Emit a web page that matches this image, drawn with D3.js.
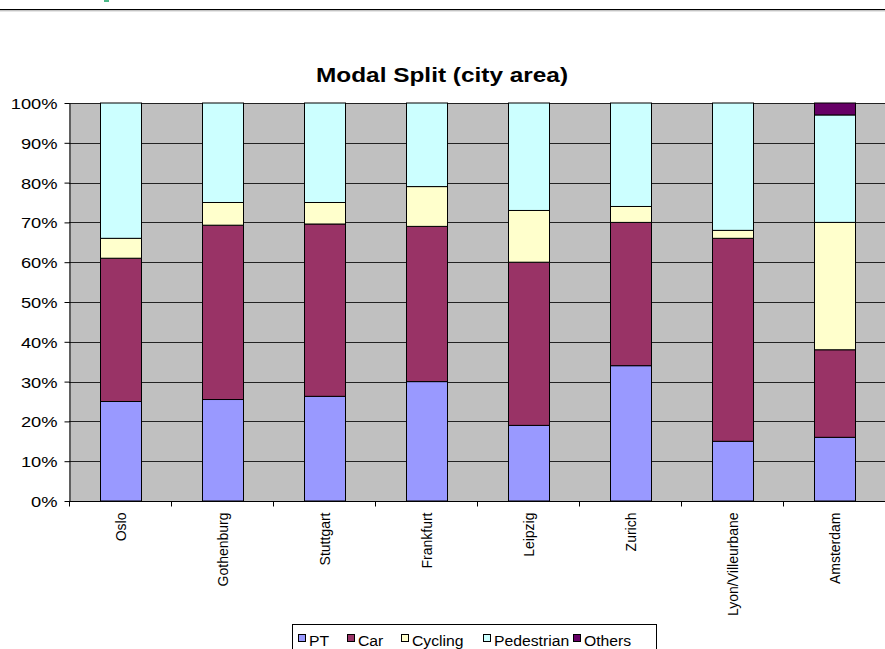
<!DOCTYPE html>
<html>
<head>
<meta charset="utf-8">
<script src="https://cdn.jsdelivr.net/npm/d3@7"></script>
<style>
  body { margin: 0; background: #fff; }
  svg { display: block; font-family: "Liberation Sans", Arial, sans-serif; }
</style>
</head>
<body>
<svg id="chart"></svg>
<script>
// data (percent of trips)
const cities = ['Oslo', 'Gothenburg', 'Stuttgart', 'Frankfurt', 'Leipzig', 'Zurich', 'Lyon/Villeurbane', 'Amsterdam'];
const modes = ['PT', 'Car', 'Cycling', 'Pedestrian', 'Others'];
const pt         = [25, 25.5, 26.3, 30, 19, 34, 15, 16];
const car        = [36, 43.8, 43.3, 39, 41, 36, 51, 22];
const cycling    = [5, 5.7, 5.4, 10, 13, 4, 2, 32];
const pedestrian = [34, 25, 25, 21, 27, 26, 32, 27];
const others     = [0, 0, 0, 0, 0, 0, 0, 3];
const yTicks = [0, 10, 20, 30, 40, 50, 60, 70, 80, 90, 100];
const colors = ['#9999ff', '#993366', '#ffffcc', '#ccffff', '#660066'];

const width = 885, height = 649;
const margin = { top: 103, right: 0, bottom: 148, left: 69 };
const sx = 1.22; // the original picture is stretched sideways

const rows = cities.map((c, i) => ({
  city: c, PT: pt[i], Car: car[i], Cycling: cycling[i], Pedestrian: pedestrian[i], Others: others[i]
}));

const svg = d3.select('#chart').attr('width', width).attr('height', height);

// header rule from the page
svg.append('rect').attr('x', 104).attr('y', 0).attr('width', 5).attr('height', 2).attr('fill', '#4cb888');
svg.append('line').attr('x1', 0).attr('x2', width).attr('y1', 9.5).attr('y2', 9.5)
  .attr('stroke', '#000').attr('stroke-width', 1.2);
svg.append('line').attr('x1', 0).attr('x2', width).attr('y1', 10.8).attr('y2', 10.8)
  .attr('stroke', '#aaa').attr('stroke-width', 1);

svg.append('text')
  .attr('transform', `translate(442,82) scale(${sx},1)`)
  .attr('text-anchor', 'middle')
  .attr('font-size', 20).attr('font-weight', 'bold')
  .text('Modal Split (city area)');

const band = d3.scaleBand().domain(cities).range([margin.left, width - margin.right]);
const y = d3.scaleLinear().domain([0, 100]).range([height - margin.bottom, margin.top]);

// plot background
svg.append('rect')
  .attr('x', margin.left).attr('y', margin.top)
  .attr('width', width - margin.right - margin.left)
  .attr('height', y(0) - y(100))
  .attr('fill', '#c0c0c0');

// gridlines
svg.append('g').selectAll('line').data(yTicks).join('line')
  .attr('x1', margin.left).attr('x2', width)
  .attr('y1', d => Math.round(y(d)) + 0.5).attr('y2', d => Math.round(y(d)) + 0.5)
  .attr('stroke', '#222').attr('stroke-width', 1);

const stack = d3.stack().keys(modes)(rows);

// bars, centred in each band
const barW = 41;
svg.append('g').selectAll('g').data(stack).join('g')
  .attr('fill', (d, i) => colors[i])
  .selectAll('rect').data(d => d.filter(s => s[1] - s[0] > 0)).join('rect')
  .attr('x', d => Math.round(band(d.data.city) + band.bandwidth() / 2 - barW / 2) + 0.5)
  .attr('width', barW)
  .attr('y', d => y(d[1]))
  .attr('height', d => y(d[0]) - y(d[1]))
  .attr('stroke', '#000').attr('stroke-width', 1);

// y axis
const yAxis = svg.append('g')
  .attr('transform', `translate(${margin.left + 0.5},0)`)
  .call(d3.axisLeft(y).tickValues(yTicks).tickFormat(d => d + '%').tickSize(5).tickSizeOuter(0));
yAxis.select('.domain').attr('stroke', '#000');
yAxis.selectAll('.tick line').attr('stroke', '#000');
yAxis.selectAll('text')
  .attr('font-family', '"Liberation Sans", Arial, sans-serif')
  .attr('font-size', 15).attr('fill', '#000')
  .attr('x', null).attr('dy', null)
  .attr('transform', `translate(-12,5.5) scale(${sx},1)`);

// x axis: ticks on band boundaries
const xAxis = svg.append('g').attr('transform', `translate(0,${Math.round(y(0)) + 0.5})`);
xAxis.append('line').attr('x1', margin.left).attr('x2', width).attr('stroke', '#000');
xAxis.selectAll('line.tk').data(cities).join('line').attr('class', 'tk')
  .attr('x1', d => Math.round(band(d)) + 0.5).attr('x2', d => Math.round(band(d)) + 0.5)
  .attr('y1', 0).attr('y2', 5).attr('stroke', '#000');
xAxis.selectAll('text').data(cities).join('text')
  .attr('transform', d => `translate(${band(d) + band.bandwidth() / 2 + 5.5},11) scale(1.05,1) rotate(-90)`)
  .attr('text-anchor', 'end')
  .attr('font-size', 14)
  .text(d => d);

// legend
const legX = 292, legY = 624;
const legend = svg.append('g');
legend.append('rect')
  .attr('x', legX + 0.5).attr('y', legY + 0.5)
  .attr('width', 364).attr('height', 30)
  .attr('fill', '#fff').attr('stroke', '#000');
const legSwatch = [298, 347, 401, 483, 573];
const items = legend.selectAll('g.it').data(modes).join('g').attr('class', 'it');
items.append('rect')
  .attr('x', (d, i) => legSwatch[i] + 0.5).attr('y', 634.5).attr('width', 7).attr('height', 7)
  .attr('fill', (d, i) => colors[i]).attr('stroke', '#000');
items.append('text')
  .attr('transform', (d, i) => `translate(${legSwatch[i] + 11},645.5) scale(1.05,1)`)
  .attr('font-size', 15)
  .text(d => d);
</script>
</body>
</html>
